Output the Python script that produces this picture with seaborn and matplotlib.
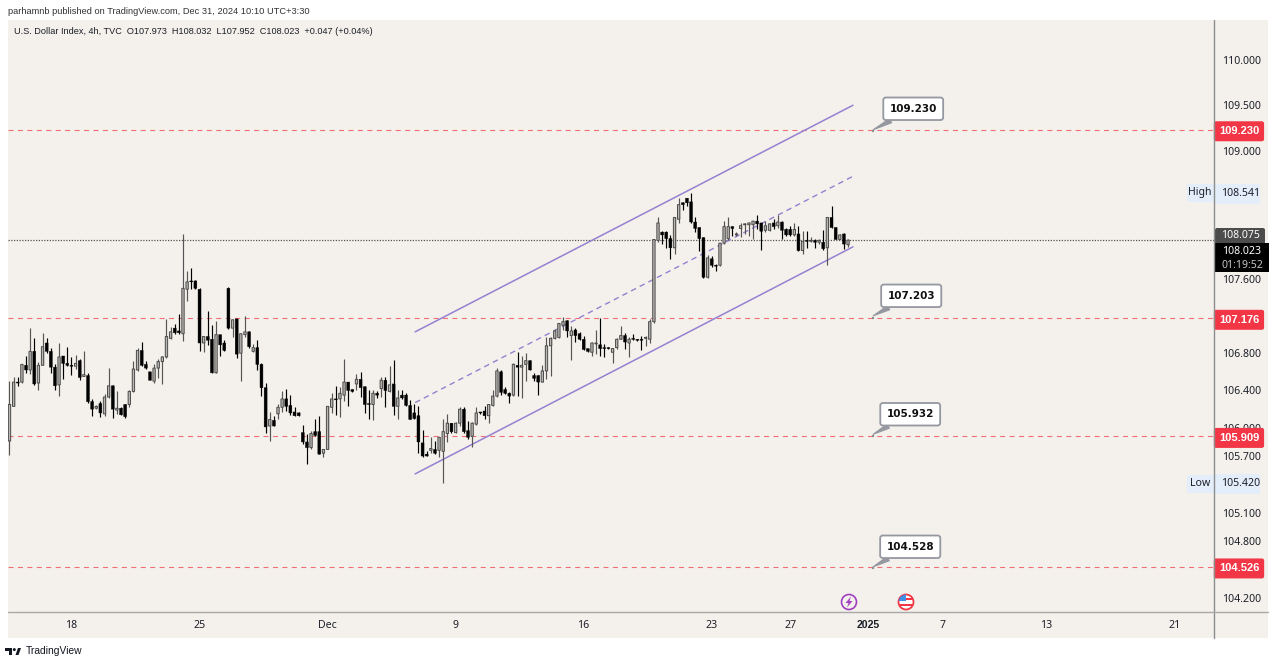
import numpy as np
import pandas as pd
import seaborn as sns
import matplotlib.pyplot as plt
from matplotlib.patches import Circle, FancyBboxPatch, Polygon, Rectangle

# 4h candles
opens = [105.86,106.23,106.49,106.49,106.67,106.62,106.82,106.48,106.67,106.91,
         106.82,106.65,106.46,106.77,106.69,106.67,106.66,106.72,106.55,106.56,
         106.28,106.21,106.26,106.15,106.33,106.45,106.19,106.21,106.25,106.25,
         106.39,106.62,106.83,106.68,106.60,106.50,106.64,106.71,106.76,106.96,
         107.07,107.04,107.01,107.49,107.58,107.58,107.49,106.91,106.98,106.95,
         106.59,107.00,106.91,107.50,107.07,107.17,106.80,107.00,107.03,106.82,
         106.86,106.68,106.43,106.02,106.08,106.15,106.22,106.31,106.24,106.17,
         106.16,105.95,105.85,105.79,105.96,105.96,105.73,105.77,106.22,106.31,
         106.31,106.35,106.49,106.41,106.47,106.52,106.44,106.26,106.25,106.37,
         106.42,106.51,106.39,106.47,106.23,106.35,106.35,106.24,106.16,106.13,
         105.84,105.72,105.76,105.77,105.76,105.75,105.94,106.05,105.95,106.05,
         106.20,105.97,105.91,106.04,106.17,106.18,106.13,106.24,106.34,106.60,
         106.41,106.37,106.35,106.67,106.65,106.68,106.72,106.56,106.56,106.49,
         106.61,106.88,106.96,106.97,107.10,107.15,106.99,107.05,107.01,106.95,
         106.85,106.81,106.90,106.89,106.86,106.86,106.81,106.86,106.95,106.99,
         106.91,106.96,106.95,106.95,106.96,106.95,107.14,108.02,108.11,108.11,
         108.04,107.94,108.25,108.43,108.48,108.44,108.22,108.16,108.05,107.62,
         107.82,107.75,107.75,107.99,108.04,108.17,108.08,108.15,108.19,108.19,
         108.19,108.23,108.21,108.13,108.13,108.21,108.18,108.22,108.14,108.14,
         108.08,108.09,107.91,108.02,108.01,108.02,108.00,108.00,107.94,108.27,
         108.16,108.03,108.09,107.973]
highs = [106.50,106.54,106.54,106.68,106.77,107.07,106.96,106.71,107.02,106.96,
         106.86,106.68,106.91,106.77,106.87,106.76,106.78,106.74,106.82,106.59,
         106.31,106.24,106.29,106.36,106.64,106.46,106.39,106.22,106.26,106.40,
         106.72,106.86,106.92,106.72,106.60,106.68,106.74,106.77,107.17,107.08,
         107.11,107.22,108.09,107.69,107.72,107.59,107.50,106.99,107.25,107.10,
         107.15,107.00,106.94,107.51,107.17,107.17,107.01,107.20,107.04,106.90,
         106.94,106.69,106.48,106.17,106.13,106.25,106.39,106.42,106.35,106.22,
         106.17,106.03,105.93,105.97,106.10,106.13,105.78,106.23,106.37,106.45,
         106.44,106.74,106.49,106.42,106.58,106.60,106.45,106.41,106.40,106.39,
         106.54,106.54,106.66,106.73,106.40,106.40,106.37,106.30,106.25,106.23,
         105.98,105.75,105.90,105.86,105.90,106.10,106.15,106.05,106.06,106.22,
         106.22,106.07,106.06,106.22,106.17,106.23,106.26,106.41,106.64,106.62,
         106.44,106.38,106.69,106.81,106.77,106.80,106.73,106.59,106.57,106.67,
         106.97,106.97,107.06,107.13,107.19,107.16,107.09,107.07,107.03,106.98,
         106.85,106.92,107.05,107.18,106.90,106.87,106.86,106.96,107.09,107.02,
         106.97,107.01,106.95,106.98,106.98,107.17,108.04,108.27,108.12,108.12,
         108.08,108.28,108.48,108.44,108.48,108.54,108.27,108.17,108.06,107.86,
         107.85,107.76,107.99,108.23,108.28,108.18,108.11,108.21,108.21,108.22,
         108.23,108.30,108.21,108.23,108.21,108.25,108.30,108.23,108.15,108.18,
         108.21,108.18,108.12,108.12,108.06,108.03,108.04,108.13,108.28,108.39,
         108.17,108.09,108.10,108.032]
lows = [105.71,106.23,106.45,106.48,106.59,106.58,106.46,106.40,106.67,106.80,
        106.59,106.41,106.34,106.52,106.66,106.57,106.63,106.51,106.55,106.27,
        106.13,106.20,106.12,106.13,106.32,106.11,106.15,106.14,106.11,106.22,
        106.38,106.61,106.66,106.63,106.51,106.48,106.53,106.47,106.75,106.95,
        107.01,107.01,106.93,107.36,107.49,107.49,106.82,106.81,106.89,106.59,
        106.59,106.77,106.82,107.06,106.97,106.75,106.50,106.97,106.86,106.81,
        106.62,106.34,105.95,105.86,106.02,106.10,106.17,106.18,106.14,106.13,
        106.13,105.83,105.61,105.78,105.91,105.72,105.69,105.77,106.16,106.14,
        106.12,106.29,106.23,106.38,106.41,106.33,106.16,106.09,106.08,106.32,
        106.33,106.22,106.38,106.14,106.09,106.31,106.23,106.09,106.09,105.73,
        105.69,105.70,105.73,105.72,105.69,105.41,105.85,105.95,105.95,106.02,
        105.95,105.88,105.80,106.03,106.15,106.10,106.05,106.23,106.33,106.35,
        106.36,106.27,106.34,106.34,106.32,106.50,106.62,106.50,106.35,106.49,
        106.52,106.55,106.95,106.96,107.05,106.97,106.73,106.92,106.94,106.83,
        106.81,106.77,106.79,106.77,106.76,106.85,106.70,106.85,106.95,106.85,
        106.76,106.94,106.93,106.83,106.88,106.91,107.13,108.00,107.98,107.94,
        107.82,107.87,108.21,108.35,108.39,108.21,108.11,107.90,107.61,107.61,
        107.73,107.69,107.74,107.98,108.02,108.07,108.07,108.06,108.09,108.07,
        108.04,108.14,107.92,108.11,108.12,108.14,108.16,108.03,108.07,108.07,
        108.07,107.91,107.87,107.94,108.00,107.94,107.98,107.92,107.75,108.15,
        108.03,108.03,107.93,107.952]
closes = [106.25,106.49,106.48,106.68,106.62,106.82,106.47,106.67,106.87,106.82,
          106.65,106.45,106.76,106.69,106.67,106.66,106.69,106.54,106.57,106.28,
          106.20,106.23,106.16,106.33,106.45,106.20,106.21,106.14,106.12,106.39,
          106.63,106.83,106.67,106.64,106.51,106.64,106.71,106.76,106.98,107.03,
          107.02,107.02,107.50,107.57,107.57,107.50,106.91,106.98,106.94,106.59,
          107.00,106.89,106.83,107.07,107.16,106.79,107.01,107.03,106.87,106.86,
          106.68,106.43,106.01,106.09,106.02,106.22,106.31,106.23,106.16,106.13,
          106.13,105.85,105.79,105.94,105.92,105.72,105.77,106.23,106.31,106.30,
          106.37,106.49,106.40,106.39,106.52,106.43,106.25,106.25,106.37,106.35,
          106.51,106.40,106.46,106.23,106.32,106.32,106.24,106.09,106.10,105.85,
          105.70,105.70,105.78,105.73,105.90,105.96,106.05,105.96,106.05,106.20,
          105.96,105.90,106.05,106.16,106.16,106.13,106.25,106.34,106.61,106.38,
          106.37,106.34,106.68,106.65,106.67,106.72,106.62,106.53,106.49,106.61,
          106.88,106.96,107.04,107.12,107.14,107.04,107.04,106.99,106.95,106.84,
          106.82,106.91,106.91,106.85,106.85,106.85,106.85,106.95,106.99,106.92,
          106.95,106.95,106.94,106.94,106.97,107.14,108.03,108.21,108.08,108.04,
          107.94,108.27,108.41,108.41,108.43,108.22,108.15,108.04,107.62,107.83,
          107.75,107.74,107.99,108.17,108.17,108.15,108.09,108.18,108.20,108.21,
          108.23,108.20,108.12,108.18,108.20,108.17,108.22,108.13,108.08,108.08,
          108.14,107.91,108.01,108.01,108.02,108.00,108.02,107.93,108.27,108.16,
          108.03,108.08,107.98,108.023]

# axis labels
price_ticks = [110.0, 109.5, 109.0, 107.6, 106.8, 106.4, 106.0, 105.7, 105.1, 104.8, 104.2]
date_bars = [15, 46, 77, 108, 139, 170, 189, 208, 226, 251, 282]
date_labels = ['18', '25', 'Dec', '9', '16', '23', '27', '2025', '7', '13', '21']

# horizontal levels and their callouts
levels = [109.23, 107.176, 105.909, 104.526]
level_labels = ['109.230', '107.176', '105.909', '104.526']
callouts = [109.23, 107.203, 105.932, 104.528]
callout_labels = ['109.230', '107.203', '105.932', '104.528']
last_close = 108.023

# channel drawn on the chart (two ends in bars, then prices)
channel_bars = [98.2, 204.2]
channel_upper = [107.03, 109.50]
channel_mid = [106.27, 108.72]
channel_lower = [105.51, 107.95]

BG = '#f4f1ec'
RED = '#f23645'
PURPLE = '#9581d1'
TXT = '#1c1f28'

sns.set_theme(style='white')
plt.rcParams['font.family'] = ['Noto Sans', 'DejaVu Sans']

df = pd.DataFrame({'open': opens, 'high': highs, 'low': lows, 'close': closes})
df['bar'] = np.arange(len(df))
df['bottom'] = df[['open', 'close']].min(axis=1)
df['height'] = (df['close'] - df['open']).abs().clip(lower=0.006)
up = df[df['close'] >= df['open']]
down = df[df['close'] < df['open']]

W, H = 1280, 665
fig = plt.figure(figsize=(W / 100, H / 100), dpi=100, facecolor='white')


def px_axes(x0, y0, x1, y1, **kw):
    return fig.add_axes([x0 / W, 1 - y1 / H, (x1 - x0) / W, (y1 - y0) / H], **kw)


# panel behind the chart
back = px_axes(8, 20, 1268, 638, facecolor=BG, zorder=0)
back.set_xticks([])
back.set_yticks([])
sns.despine(ax=back, left=True, bottom=True)

ax = px_axes(8, 20, 1214, 612, zorder=1)
ax.patch.set_alpha(0)
ax.set_yscale('log')
ax.set_ylim(104.053, 110.444)
ax.set_xlim(-0.363, 291.6)
sns.despine(ax=ax, left=True, bottom=True)

# levels
for lv in levels:
    ax.axhline(lv, color=RED, lw=0.8, ls=(0, (4.5, 4)), alpha=0.7, zorder=1)
ax.axhline(last_close, color='#555555', lw=0.9, ls=(0, (1, 1.2)), zorder=1)

# channel
sns.lineplot(x=channel_bars, y=channel_upper, ax=ax, color=PURPLE, lw=1.1, zorder=2)
sns.lineplot(x=channel_bars, y=channel_lower, ax=ax, color=PURPLE, lw=1.1, zorder=2)
ax.plot(channel_bars, channel_mid, color=PURPLE, lw=1.0, ls=(0, (4, 3)), zorder=2)

# candles, no pixel snapping so thin bodies stay even
ax.vlines(up['bar'], up['low'], up['high'], color='#555555', lw=0.85, zorder=3)
ax.vlines(down['bar'], down['low'], down['high'], color='black', lw=0.85, zorder=3)
ax.bar(up['bar'], up['height'], bottom=up['bottom'], width=0.56, facecolor='#b9b7b3',
       edgecolor='#4a4a4a', linewidth=0.7, snap=False, zorder=4)
ax.bar(down['bar'], down['height'], bottom=down['bottom'], width=0.7, facecolor='black',
       edgecolor='black', linewidth=0.3, snap=False, zorder=4)

# axis text
ax.yaxis.tick_right()
ax.set_yticks(price_ticks, labels=['%.3f' % p for p in price_ticks])
ax.minorticks_off()
ax.tick_params(axis='y', length=0, pad=5.6, labelsize=7.6, labelcolor=TXT)
ax.set_xticks(date_bars, labels=date_labels)
ax.tick_params(axis='x', length=0, pad=5.6, labelsize=7.6, labelcolor=TXT)
ax.get_xticklabels()[date_labels.index('2025')].set_fontweight('bold')
ax.get_xticklabels()[date_labels.index('2025')].set_family('Liberation Sans')
ax.set_xlabel('')
ax.set_ylabel('')

# red price tags
ytrans = ax.get_yaxis_transform()
for lv, lab in zip(levels, level_labels):
    ax.annotate(lab, xy=(1.0207, lv), xycoords=ytrans, xytext=(0, -1.5), textcoords='offset pixels',
                ha='center', va='center', color='white', family='Liberation Sans',
                fontsize=8, fontweight='bold', zorder=6,
                bbox=dict(boxstyle='round,pad=0.45,rounding_size=0.2', fc=RED, ec='none'))

# speech bubble callouts
anchor_bar = 209.1
offsets = [(40, 21), (38, 20), (37, 20), (37, 20)]
for val, lab, off in zip(callouts, callout_labels, offsets):
    ax.annotate(lab, xy=(anchor_bar, val), xytext=off, textcoords='offset pixels',
                ha='center', va='center', fontsize=7.5, fontweight='bold', color='#111111',
                family='DejaVu Sans',
                bbox=dict(boxstyle='round,pad=0.6,rounding_size=0.25', fc='white',
                          ec='#9598a1', lw=1.3),
                arrowprops=dict(arrowstyle='wedge,tail_width=0.45,shrink_factor=0.5',
                                fc='#9598a1', ec='#9598a1', lw=0.8, shrinkA=0, shrinkB=0),
                zorder=7)

# everything else sits on a pixel overlay
ov = fig.add_axes([0, 0, 1, 1], zorder=3)
ov.set_xlim(0, W)
ov.set_ylim(H, 0)
ov.axis('off')
ov.patch.set_alpha(0)

ov.plot([1214, 1214], [20, 638], color='#8d8d8d', lw=1)
ov.plot([8, 1268], [612, 612], color='#a8a8a8', lw=1)

ov.text(8, 11, 'parhamnb published on TradingView.com, Dec 31, 2024 10:10 UTC+3:30',
        fontsize=6.7, color='#333333', va='center', family='Liberation Sans')
ov.text(14, 32, 'U.S. Dollar Index, 4h, TVC  O107.973  H108.032  L107.952  C108.023  +0.047 (+0.04%)',
        fontsize=6.6, color=TXT, va='center', family='Liberation Sans')


def tag(x0, y0, x1, y1, color):
    ov.add_patch(FancyBboxPatch((x0, y0), x1 - x0, y1 - y0, fc=color, ec='none',
                                boxstyle='round,pad=0,rounding_size=2'))


tag(1187, 184, 1214, 202, '#e4eefa')
tag(1214, 184, 1260, 204, '#e4eefa')
tag(1187, 475, 1214, 493, '#e4eefa')
tag(1214, 474, 1260, 494, '#e4eefa')
ov.text(1200, 192, 'High', fontsize=7.6, color=TXT, ha='center', va='center')
ov.text(1241, 194, '108.541', fontsize=7.6, color=TXT, ha='center', va='center')
ov.text(1200, 484, 'Low', fontsize=7.6, color=TXT, ha='center', va='center')
ov.text(1241, 484, '105.420', fontsize=7.6, color=TXT, ha='center', va='center')

tag(1215, 228, 1265, 244, '#4c4c4c')
ov.text(1240, 236, '108.075', fontsize=7.6, color='white', ha='center', va='center')
ov.add_patch(Rectangle((1215, 243), 54, 29, fc='black', ec='none'))
ov.text(1242, 252, '108.023', fontsize=7.6, color='white', ha='center', va='center')
ov.text(1242, 265, '01:19:52', fontsize=7.6, color='#c4c4c4', ha='center', va='center')

# anchors of the callouts
for y in [131, 318, 436, 568]:
    ov.add_patch(Circle((873, y), 1.2, fc='#8d8d8d', ec='none'))

# event icons
ov.add_patch(Circle((849, 602), 7.5, fc=BG, ec='#a13fc0', lw=1.2))
ov.add_patch(Polygon([(851, 596.5), (845.5, 603), (848.5, 603), (847, 607.5), (852.5, 601), (849.5, 601)],
                     fc='#a13fc0', ec='none'))
ring = Circle((906, 602), 7.5, fc='white', ec=RED, lw=1.3)
ov.add_patch(ring)
for piece in [Rectangle((898, 594), 8, 7, fc='#3f8ee8', ec='none'),
              Rectangle((906, 598), 8, 2, fc=RED, ec='none'),
              Rectangle((898, 604), 16, 1.6, fc=RED, ec='none')]:
    ov.add_patch(piece)
    piece.set_clip_path(ring)

# footer logo and name
ov.add_patch(Polygon([(5, 648), (12, 648), (12, 655), (9, 655), (9, 651), (5, 651)], fc='#131722', ec='none'))
ov.add_patch(Circle((14.3, 649.6), 1.5, fc='#131722', ec='none'))
ov.add_patch(Polygon([(15.5, 655), (18, 648), (21, 648), (18.5, 655)], fc='#131722', ec='none'))
ov.text(26, 651.5, 'TradingView', fontsize=7.4, color='#131722', va='center', family='Liberation Sans')

fig.savefig('out.png', dpi=100, facecolor='white')
